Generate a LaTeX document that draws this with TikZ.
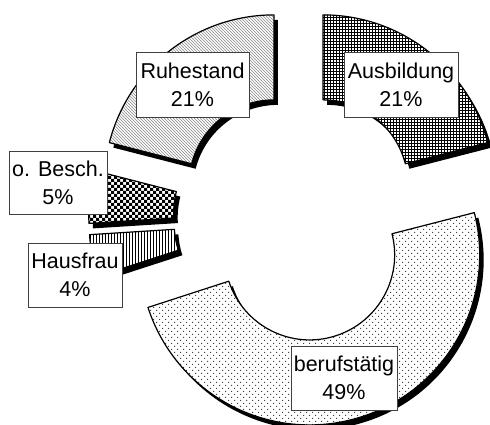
\documentclass[tikz,border=0pt]{standalone}
\usepackage{fontspec}
\setmainfont{Liberation Sans}
\usetikzlibrary{patterns}

% fill patterns for the ring segments
\pgfdeclarepatternformonly{fgrid}{\pgfqpoint{-1pt}{-1pt}}{\pgfqpoint{4pt}{4pt}}{\pgfqpoint{3pt}{3pt}}{%
  \pgfsetlinewidth{0.9pt}%
  \pgfpathmoveto{\pgfqpoint{0pt}{0pt}}\pgfpathlineto{\pgfqpoint{3.1pt}{0pt}}%
  \pgfpathmoveto{\pgfqpoint{0pt}{0pt}}\pgfpathlineto{\pgfqpoint{0pt}{3.1pt}}%
  \pgfusepath{stroke}}
\pgfdeclarepatternformonly{fcheck}{\pgfqpoint{-0.1pt}{-0.1pt}}{\pgfqpoint{6.1pt}{6.1pt}}{\pgfqpoint{6pt}{6pt}}{%
  \pgfpathrectangle{\pgfqpoint{0pt}{0pt}}{\pgfqpoint{3pt}{3pt}}%
  \pgfpathrectangle{\pgfqpoint{3pt}{3pt}}{\pgfqpoint{3pt}{3pt}}%
  \pgfusepath{fill}}
\pgfdeclarepatternformonly{fvert}{\pgfqpoint{-1pt}{-1pt}}{\pgfqpoint{4pt}{4pt}}{\pgfqpoint{3pt}{3pt}}{%
  \pgfsetlinewidth{1pt}%
  \pgfpathmoveto{\pgfqpoint{0pt}{-0.1pt}}\pgfpathlineto{\pgfqpoint{0pt}{3.1pt}}%
  \pgfusepath{stroke}}
\pgfdeclarepatternformonly{fdots}{\pgfqpoint{-0.5pt}{-0.5pt}}{\pgfqpoint{6.5pt}{6.5pt}}{\pgfqpoint{6pt}{6pt}}{%
  \pgfpathrectangle{\pgfqpoint{0pt}{0pt}}{\pgfqpoint{1pt}{1pt}}%
  \pgfpathrectangle{\pgfqpoint{3pt}{3pt}}{\pgfqpoint{1pt}{1pt}}%
  \pgfusepath{fill}}
\pgfdeclarepatternformonly{fdiag}{\pgfqpoint{-1pt}{-1pt}}{\pgfqpoint{4pt}{4pt}}{\pgfqpoint{3pt}{3pt}}{%
  \pgfsetlinewidth{0.55pt}%
  \pgfpathmoveto{\pgfqpoint{-0.1pt}{3.1pt}}\pgfpathlineto{\pgfqpoint{3.1pt}{-0.1pt}}%
  \pgfusepath{stroke}}

% one exploded ring segment with drop shadow:
% #1 start angle, #2 end angle, #3 explode direction, #4 pattern, #5 pattern colour
\newcommand{\ringpart}[5]{%
  \begin{scope}[shift={(#3:40)}]
    \fill[black, shift={(4,-5)}] (#1:170) arc[start angle=#1,end angle=#2,radius=170]
      -- (#2:85) arc[start angle=#2,end angle=#1,radius=85] -- cycle;
    \fill[white] (#1:170) arc[start angle=#1,end angle=#2,radius=170]
      -- (#2:85) arc[start angle=#2,end angle=#1,radius=85] -- cycle;
    \path[pattern=#4, pattern color=#5] (#1:170) arc[start angle=#1,end angle=#2,radius=170]
      -- (#2:85) arc[start angle=#2,end angle=#1,radius=85] -- cycle;
    \draw[segline] (#1:170) arc[start angle=#1,end angle=#2,radius=170]
      -- (#2:85) arc[start angle=#2,end angle=#1,radius=85] -- cycle;
  \end{scope}}

\tikzset{
  segline/.style={line width=1.2pt, line join=round},
  lbl/.style={draw=black!75, line width=0.8pt, fill=white, align=center, inner sep=0pt,
    font=\fontsize{21.5pt}{28pt}\selectfont}
}

\begin{document}
\begin{tikzpicture}[x=1pt,y=1pt]
  \useasboundingbox (0,0) rectangle (490,425);
  \fill[white] (0,0) rectangle (490,425);

  \begin{scope}[shift={(298.5,208.5)}]
    \ringpart{90}{14.4}{52.2}{fgrid}{black}
    \ringpart{14.4}{-162}{-73.8}{fdots}{black!75}
    \ringpart{-162}{-176.4}{-169.2}{fvert}{black}
    \ringpart{-176.4}{-194.4}{-185.4}{fcheck}{black}
    \ringpart{-194.4}{-270}{-232.2}{fdiag}{black!45}
  \end{scope}

  \node[lbl, minimum width=114pt, minimum height=65pt] (ausbildung) at (401,340.5) {Ausbildung\\21\%};
  \node[lbl, minimum width=113pt, minimum height=65pt] (ruhestand) at (192.5,340.5) {Ruhestand\\21\%};
  \node[lbl, minimum width=98pt, minimum height=63pt] (obesch) at (58,242.5) {o. Besch.\\5\%};
  \node[lbl, minimum width=94pt, minimum height=64pt] (hausfrau) at (75,150) {Hausfrau\\4\%};
  \node[lbl, minimum width=106pt, minimum height=64pt] (beruf) at (344,47) {berufstätig\\49\%};
\end{tikzpicture}
\end{document}
